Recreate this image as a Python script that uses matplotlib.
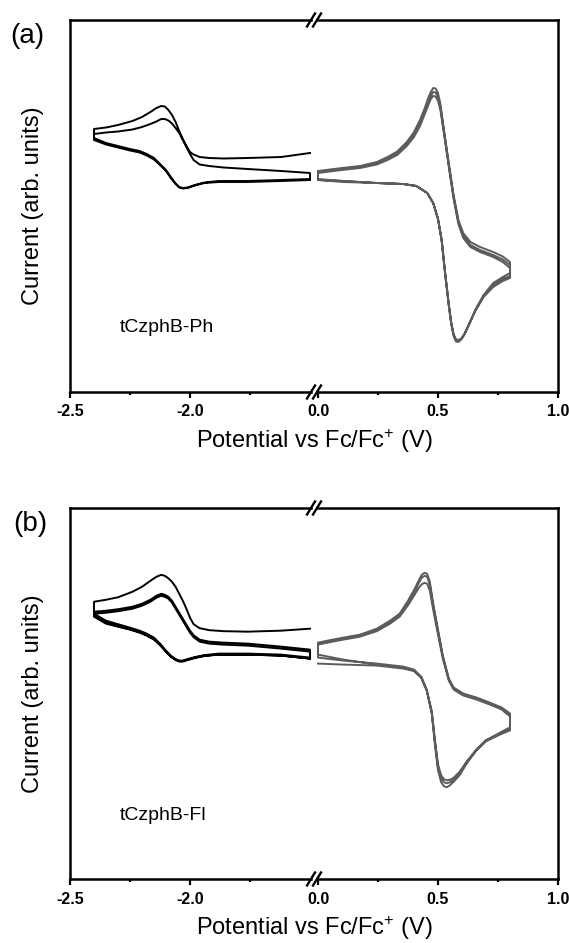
import matplotlib
matplotlib.use("Agg")
import matplotlib.pyplot as plt
from matplotlib.lines import Line2D
from matplotlib.ticker import FixedLocator, FormatStrFormatter

plt.rcParams['font.family'] = ['Liberation Sans', 'DejaVu Sans']
plt.rcParams['mathtext.default'] = 'regular'
plt.rcParams['axes.unicode_minus'] = False

# ---- cyclic voltammograms (potential in V vs Fc/Fc+, current in arb. units) ----

# reduction scans: forward goes -1.5 -> -2.4 V, reverse back to -1.5 V
red_E_fwd = [-1.50, -1.62, -1.76, -1.86, -1.92, -1.96, -1.985, -2.00, -2.015,
             -2.03, -2.045, -2.06, -2.075, -2.09, -2.105, -2.12, -2.14, -2.165,
             -2.20, -2.24, -2.30, -2.35, -2.40]
red_E_rev = [-2.40, -2.35, -2.30, -2.25, -2.21, -2.18, -2.15, -2.125, -2.10,
             -2.08, -2.06, -2.045, -2.03, -2.01, -1.98, -1.94, -1.88, -1.76,
             -1.62, -1.50]

# tCzphB-Ph, reduction
ph_red_fwd1 = [23.9, 23.5, 23.4, 23.35, 23.4, 23.5, 23.75, 24.0, 24.6,
               25.3, 26.1, 27.0, 27.7, 28.2, 28.55, 28.6, 28.4, 28.0,
               27.5, 27.1, 26.7, 26.45, 26.3]
ph_red_rev1 = [25.4, 24.9, 24.6, 24.3, 24.1, 23.8, 23.4, 22.8, 22.2,
               21.5, 20.85, 20.5, 20.4, 20.45, 20.7, 20.95, 21.1, 21.1,
               21.2, 21.3]
ph_red_fwd2 = [21.9, 22.1, 22.3, 22.45, 22.6, 22.75, 23.2, 23.8, 24.5,
               25.2, 25.9, 26.4, 26.85, 27.15, 27.3, 27.3, 27.05, 26.8,
               26.5, 26.25, 26.05, 25.95, 25.8]
ph_red_rev2 = [25.2, 24.75, 24.45, 24.15, 23.95, 23.65, 23.25, 22.7, 22.1,
               21.4, 20.8, 20.45, 20.35, 20.4, 20.65, 20.9, 21.0, 21.0,
               21.1, 21.2]

# tCzphB-Fl, reduction
fl_red_fwd1 = [25.1, 24.9, 24.8, 24.85, 24.95, 25.15, 25.55, 26.2, 27.1,
               27.9, 28.6, 29.3, 29.8, 30.15, 30.4, 30.5, 30.3, 29.9,
               29.3, 28.8, 28.25, 28.0, 27.8]
fl_red_rev1 = [26.6, 25.9, 25.55, 25.2, 24.9, 24.6, 24.2, 23.6, 22.9,
               22.4, 22.05, 21.9, 21.9, 22.05, 22.25, 22.45, 22.6, 22.6,
               22.5, 22.2]
fl_red_fwd2 = [23.0, 23.3, 23.6, 23.7, 23.8, 24.0, 24.45, 24.9, 25.5,
               26.1, 26.7, 27.3, 27.9, 28.3, 28.5, 28.6, 28.4, 28.0,
               27.6, 27.3, 27.05, 26.9, 26.8]
fl_red_rev2 = [26.4, 25.7, 25.35, 25.05, 24.75, 24.45, 24.05, 23.5, 22.8,
               22.3, 22.0, 21.85, 21.85, 22.0, 22.2, 22.4, 22.5, 22.5,
               22.4, 22.1]
fl_red_fwd3 = [22.8, 23.1, 23.4, 23.5, 23.6, 23.8, 24.25, 24.7, 25.3,
               25.9, 26.5, 27.1, 27.7, 28.1, 28.3, 28.4, 28.2, 27.8,
               27.4, 27.1, 26.85, 26.7, 26.6]
fl_red_rev3 = [26.3, 25.6, 25.3, 25.0, 24.7, 24.4, 24.0, 23.45, 22.8,
               22.3, 21.95, 21.8, 21.8, 21.95, 22.15, 22.35, 22.5, 22.5,
               22.4, 22.1]

# oxidation scans: forward 0 -> 0.8 V, reverse back to 0 V
ph_ox_E_fwd = [0.00, 0.05, 0.10, 0.175, 0.245, 0.29, 0.33, 0.37, 0.40, 0.425,
               0.445, 0.46, 0.47, 0.48, 0.49, 0.50, 0.51, 0.525, 0.545, 0.565,
               0.585, 0.605, 0.635, 0.675, 0.73, 0.77, 0.80]
ph_ox_E_rev = [0.80, 0.77, 0.73, 0.69, 0.655, 0.63, 0.61, 0.597, 0.585, 0.575,
               0.565, 0.555, 0.545, 0.53, 0.515, 0.50, 0.48, 0.455, 0.41,
               0.355, 0.245, 0.105, 0.00]
ph_ox_fwd1 = [22.1, 22.25, 22.4, 22.6, 23.0, 23.5, 24.05, 25.0, 26.0, 27.2,
              28.4, 29.45, 30.0, 30.4, 30.35, 29.9, 28.8, 26.2, 22.9, 19.7,
              17.2, 15.9, 15.0, 14.5, 14.0, 13.55, 13.0]
ph_ox_rev1 = [11.9, 11.5, 10.9, 9.7, 8.2, 6.8, 5.75, 5.25, 5.0, 5.05,
              5.6, 6.8, 8.6, 11.7, 15.2, 17.3, 18.9, 19.9, 20.6,
              20.8, 20.9, 21.1, 21.3]
ph_ox_fwd2 = [22.0, 22.15, 22.3, 22.5, 22.85, 23.3, 23.85, 24.8, 25.8, 26.9,
              28.1, 29.0, 29.6, 30.0, 29.95, 29.5, 28.5, 26.0, 22.7, 19.5,
              17.0, 15.6, 14.7, 14.2, 13.7, 13.25, 12.7]
ph_ox_rev2 = [11.6, 11.3, 10.7, 9.6, 8.1, 6.8, 5.75, 5.3, 5.1, 5.15,
              5.7, 6.9, 8.7, 11.8, 15.2, 17.3, 18.9, 19.9, 20.6,
              20.8, 20.9, 21.1, 21.2]
ph_ox_fwd3 = [21.9, 22.05, 22.2, 22.4, 22.75, 23.2, 23.7, 24.6, 25.5, 26.6,
              27.8, 28.7, 29.3, 29.6, 29.55, 29.1, 28.2, 25.8, 22.5, 19.3,
              16.8, 15.4, 14.5, 14.0, 13.5, 13.0, 12.4]
ph_ox_rev3 = [11.4, 11.1, 10.5, 9.5, 8.1, 6.8, 5.8, 5.35, 5.2, 5.25,
              5.8, 7.0, 8.8, 11.9, 15.3, 17.3, 18.9, 19.9, 20.6,
              20.8, 20.9, 21.0, 21.2]

fl_ox_E_fwd = [0.00, 0.05, 0.105, 0.175, 0.245, 0.30, 0.34, 0.375, 0.405, 0.42,
               0.432, 0.444, 0.455, 0.466, 0.48, 0.50, 0.52, 0.545, 0.565,
               0.605, 0.66, 0.715, 0.765, 0.80]
fl_ox_E_rev = [0.80, 0.76, 0.70, 0.66, 0.62, 0.59, 0.565, 0.55, 0.537, 0.525,
               0.513, 0.50, 0.487, 0.474, 0.453, 0.43, 0.40, 0.355, 0.245,
               0.105, 0.00]
fl_ox_fwd1 = [23.7, 23.95, 24.2, 24.5, 25.1, 25.9, 26.6, 27.9, 29.2, 29.95,
              30.5, 30.7, 30.6, 29.8, 27.6, 25.0, 22.4, 20.1, 19.2,
              18.6, 18.2, 17.7, 17.2, 16.6]
fl_ox_rev1 = [15.2, 14.7, 13.9, 12.9, 11.6, 10.4, 9.75, 9.4, 9.2, 9.3,
              9.7, 10.9, 13.5, 16.6, 18.9, 20.2, 20.9, 21.2, 21.5,
              22.0, 22.5]
fl_ox_fwd2 = [23.6, 23.85, 24.1, 24.4, 25.0, 25.75, 26.45, 27.7, 28.95, 29.7,
              30.2, 30.4, 30.3, 29.5, 27.4, 24.8, 22.3, 20.0, 19.1,
              18.5, 18.1, 17.6, 17.1, 16.4]
fl_ox_rev2 = [15.0, 14.6, 13.9, 13.0, 11.8, 10.75, 10.15, 9.95, 9.9, 10.0,
              10.4, 11.5, 14.0, 16.8, 19.0, 20.3, 21.0, 21.3, 21.6,
              21.9, 22.2]
fl_ox_fwd3 = [23.5, 23.75, 24.0, 24.3, 24.85, 25.6, 26.3, 27.45, 28.6, 29.2,
              29.55, 29.7, 29.6, 28.9, 27.0, 24.5, 22.1, 19.9, 19.0,
              18.4, 18.0, 17.5, 17.0, 16.3]
fl_ox_rev3 = [14.9, 14.5, 13.8, 12.9, 11.7, 10.6, 9.95, 9.7, 9.6, 9.7,
              10.1, 11.2, 13.8, 16.7, 18.9, 20.2, 20.85, 21.1, 21.4,
              21.5, 21.6]

names = ['tCzphB-Ph', 'tCzphB-Fl']
letters = ['(a)', '(b)']

red_scans = [
    [ph_red_fwd1, ph_red_rev1, ph_red_fwd2, ph_red_rev2],
    [fl_red_fwd1, fl_red_rev1, fl_red_fwd2, fl_red_rev2, fl_red_fwd3, fl_red_rev3],
]
ox_grids = [(ph_ox_E_fwd, ph_ox_E_rev), (fl_ox_E_fwd, fl_ox_E_rev)]
ox_scans = [
    [ph_ox_fwd1, ph_ox_rev1, ph_ox_fwd2, ph_ox_rev2, ph_ox_fwd3, ph_ox_rev3],
    [fl_ox_fwd1, fl_ox_rev1, fl_ox_fwd2, fl_ox_rev2, fl_ox_fwd3, fl_ox_rev3],
]


def join_cycles(E_fwd, E_rev, scans):
    # chain forward/reverse sweeps into one continuous trace
    xs, ys = [], []
    for k, cur in enumerate(scans):
        xs += E_fwd if k % 2 == 0 else E_rev
        ys += cur
    return xs, ys


W, H = 569, 943
fig = plt.figure(figsize=(W / 100, H / 100), dpi=100)

# frame geometry in pixels: (top, bottom) of each panel
frames = [(20, 392), (508, 879)]
x_left, x_brk1, x_brk2, x_right = 70, 311, 317, 558
lw_frame = 1.8


def slash(cx, cy):
    fig.add_artist(Line2D([(cx - 4) / W, (cx + 4) / W],
                          [(H - cy - 6.5) / H, (H - cy + 6.5) / H],
                          transform=fig.transFigure, color='k', lw=1.7))


for p, (top, bot) in enumerate(frames):
    b = (H - bot) / H
    h = (bot - top) / H
    axL = fig.add_axes([x_left / W, b, (x_brk1 - x_left) / W, h])
    axR = fig.add_axes([x_brk2 / W, b, (x_right - x_brk2) / W, h])

    xs, ys = join_cycles(red_E_fwd, red_E_rev, red_scans[p])
    axL.plot(xs, ys, color='black', lw=1.4, solid_joinstyle='round')
    xs, ys = join_cycles(ox_grids[p][0], ox_grids[p][1], ox_scans[p])
    axR.plot(xs, ys, color='#5c5c5c', lw=1.4, solid_joinstyle='round')

    axL.set_xlim(-2.5, -2.5 + (x_brk1 - x_left) / 240)
    axR.set_xlim((x_brk2 - 318) / 240, 1.0)
    axL.xaxis.set_major_locator(FixedLocator([-2.5, -2.0]))
    axL.xaxis.set_minor_locator(FixedLocator([-2.25, -1.75]))
    axR.xaxis.set_major_locator(FixedLocator([0.0, 0.5, 1.0]))
    axR.xaxis.set_minor_locator(FixedLocator([0.25, 0.75]))
    for ax in (axL, axR):
        ax.set_ylim(0, 37.2)
        ax.set_yticks([])
        for s in ax.spines.values():
            s.set_linewidth(lw_frame)
            s.set_capstyle('projecting')
        ax.tick_params(axis='x', which='major', direction='out', length=4,
                       width=1.6, pad=5, labelsize=11.5)
        ax.tick_params(axis='x', which='minor', direction='out', length=2.5,
                       width=1.6)
        ax.xaxis.set_major_formatter(FormatStrFormatter('%.1f'))
        for lab in ax.get_xticklabels():
            lab.set_fontweight('bold')
    axL.spines['right'].set_visible(False)
    axR.spines['left'].set_visible(False)

    # axis break marks
    for cy in (top, bot):
        slash(x_brk1, cy)
        slash(x_brk2, cy)

    fig.text(314 / W, (H - bot - 49) / H, 'Potential vs Fc/Fc$^{+}$ (V)',
             ha='center', va='center', fontsize=17)
    fig.text(33 / W, (H - (top + bot) / 2) / H, 'Current (arb. units)',
             rotation=90, ha='center', va='center', fontsize=17)
    fig.text((27.5 + 2.5 * p) / W, (H - top - 16) / H, letters[p],
             ha='center', va='center', fontsize=20)
    fig.text(120 / W, (H - top - 312) / H, names[p],
             ha='left', va='baseline', fontsize=14)

fig.savefig('out.png', dpi=100)
